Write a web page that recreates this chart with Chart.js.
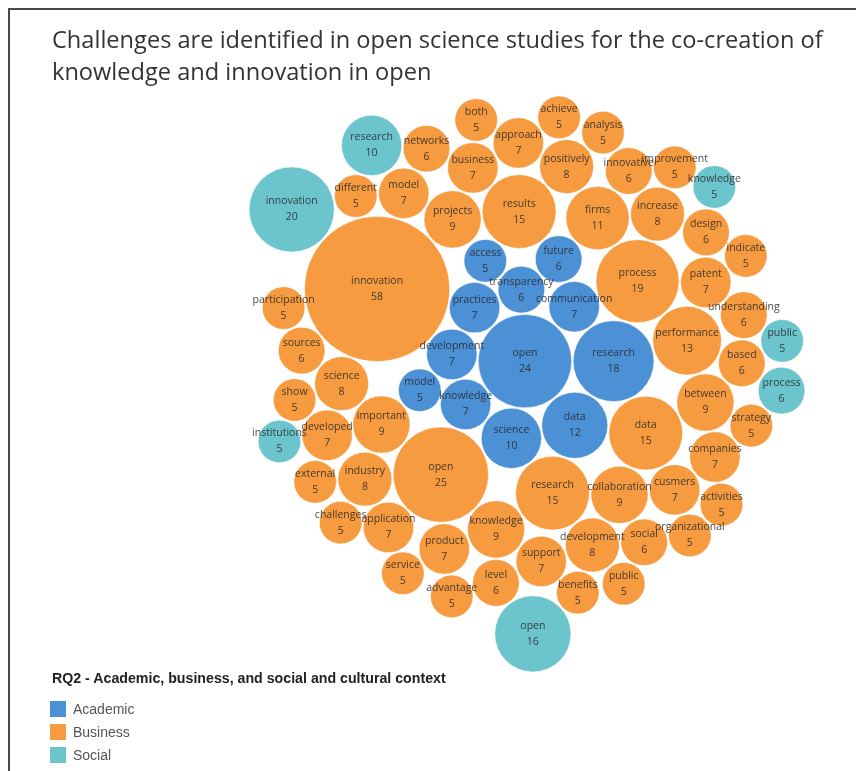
<!DOCTYPE html>
<html><head><meta charset="utf-8">
<script src="https://cdn.jsdelivr.net/npm/chart.js@4.4.0/dist/chart.umd.min.js"></script>
<style>
html,body{margin:0;padding:0;background:#fff;}
#wrap{position:relative;width:860px;height:771px;overflow:hidden;font-family:"Open Sans",sans-serif;}
#frame{position:absolute;left:8px;top:8px;width:846px;height:780px;border-top:2px solid #4a4a4a;border-left:2px solid #4a4a4a;}
#title{position:absolute;left:52px;top:23px;font-size:23.6px;line-height:32px;color:#333;white-space:nowrap;}
canvas{position:absolute;left:0;top:0;}
#legend{position:absolute;left:50px;top:669px;font-family:"Liberation Sans",Arial,sans-serif;}
#legend .lt{font-weight:bold;font-size:14.2px;color:#222;line-height:18px;margin-left:2px;}
#legend .it{position:relative;height:23px;font-size:14px;color:#555;line-height:16px;}
#legend .sw{position:absolute;left:0;top:0;width:16px;height:16px;}
#legend .tx{position:absolute;left:23px;top:0;}
</style></head>
<body><div id="wrap">
<div id="frame"></div>
<canvas id="c" width="860" height="771"></canvas>
<div id="title">Challenges are identified in open science studies for the co-creation of<br>knowledge and innovation in open</div>
<div id="legend">
  <div class="lt">RQ2 - Academic, business, and social and cultural context</div>
  <div style="height:14px"></div>
  <div class="it"><div class="sw" style="background:#4c90d6"></div><div class="tx">Academic</div></div>
  <div class="it"><div class="sw" style="background:#f69b40"></div><div class="tx">Business</div></div>
  <div class="it"><div class="sw" style="background:#6cc4cc"></div><div class="tx">Social</div></div>
</div>
</div>
<script>
const groupNames = ['Academic','Business','Social'];
const groupColors = ['#4c90d6','#f69b40','#6cc4cc'];

const academicWords = ['open','research','data','science','knowledge','development','practices','communication','transparency','future','access','model'];
const academicValues = [24,18,12,10,7,7,7,7,6,6,5,5];

const businessWords = ['innovation','open','process','research','data','results','performance','firms','important','projects','collaboration','knowledge','between',
  'science','development','increase','industry','positively','patent','cusmers','business','support','product','model','developed','companies','application','approach',
  'innovative','social','based','design','sources','level','understanding','networks',
  'show','strategy','different','benefits','organizational','analysis','external','activities','public','indicate','service','improvement','challenges','both','achieve','advantage','participation'];
const businessValues = [58,25,19,15,15,15,13,11,9,9,9,9,9,
  8,8,8,8,8,7,7,7,7,7,7,7,7,7,7,
  6,6,6,6,6,6,6,6,
  5,5,5,5,5,5,5,5,5,5,5,5,5,5,5,5,5];

const socialWords = ['innovation','open','research','process','knowledge','public','institutions'];
const socialValues = [20,16,10,6,5,5,5];

const wordLists = [academicWords, businessWords, socialWords];
const valueLists = [academicValues, businessValues, socialValues];

// ---- layout: greedy circle packing (closest to center), radius ~ sqrt(value)
const K = 9.52, PAD = 1.6;
const items = [];
wordLists.forEach((ws,g)=>{
  const arr = ws.map((w,i)=>({label:w, v:valueLists[g][i], g}));
  arr.sort((a,b)=>b.v-a.v);
  arr.forEach(o=>{o.r = K*Math.sqrt(o.v); items.push(o);});
});
function pack(list, pad){
  const placed=[];
  const ok=(x,y,r)=>{for(const p of placed){const dx=p.x-x,dy=p.y-y,m=p.r+r+pad-1e-7;if(dx*dx+dy*dy<m*m)return false;}return true;};
  for(const c of list){
    if(!placed.length){c.x=0;c.y=0;}
    else if(placed.length===1){c.x=placed[0].r+c.r+pad;c.y=0;}
    else{
      let best=null,bd=Infinity;
      const consider=(x,y)=>{const d=x*x+y*y;
        if(d<bd-1e-6||(best&&Math.abs(d-bd)<=1e-6&&y>best[1])){if(ok(x,y,c.r)){bd=d;best=[x,y];}}};
      for(let i=0;i<placed.length;i++){
        const a=placed[i],ra=a.r+c.r+pad;
        const la=Math.hypot(a.x,a.y)||1;
        consider(a.x+(a.x/la)*ra,a.y+(a.y/la)*ra);
        for(let j=i+1;j<placed.length;j++){
          const b=placed[j],rb=b.r+c.r+pad;
          const dx=b.x-a.x,dy=b.y-a.y,d=Math.hypot(dx,dy);
          if(d===0||d>ra+rb||d<Math.abs(ra-rb))continue;
          const t=(ra*ra-rb*rb+d*d)/(2*d),h=Math.sqrt(Math.max(0,ra*ra-t*t));
          const mx=a.x+dx*t/d,my=a.y+dy*t/d;
          consider(mx-dy*h/d,my+dx*h/d);
          consider(mx+dy*h/d,my-dx*h/d);
        }
      }
      c.x=best[0];c.y=best[1];
    }
    placed.push(c);
  }
}
pack(items, PAD);
let x0=Infinity,x1=-Infinity,y0=Infinity,y1=-Infinity;
items.forEach(o=>{x0=Math.min(x0,o.x-o.r);x1=Math.max(x1,o.x+o.r);y0=Math.min(y0,o.y-o.r);y1=Math.max(y1,o.y+o.r);});
const CX=527, CY=384, sx=CX-(x0+x1)/2, sy=CY-(y0+y1)/2;

const datasets = groupNames.map((name,g)=>({
  label:name,
  data: items.filter(o=>o.g===g).map(o=>({x:o.x+sx, y:o.y+sy, r:o.r, label:o.label, v:o.v})),
  backgroundColor: groupColors[g],
  borderColor:'rgba(255,255,255,0.6)',
  borderWidth:0.8,
  hoverRadius:0,
  clip:false
}));

const labelPlugin = {
  id:'bubbleLabels',
  afterDatasetsDraw(chart){
    const ctx=chart.ctx;
    ctx.save();
    ctx.font='10.5px "Open Sans"';
    ctx.textAlign='center';ctx.textBaseline='middle';
    ctx.fillStyle='rgba(40,40,40,0.85)';
    chart.data.datasets.forEach((ds,di)=>{
      chart.getDatasetMeta(di).data.forEach((el,i)=>{
        const p=ds.data[i];
        ctx.fillText(p.label,el.x,el.y-8);
        ctx.fillText(String(p.v),el.x,el.y+8);
      });
    });
    ctx.restore();
  }
};

new Chart(document.getElementById('c'),{
  type:'bubble',
  data:{datasets},
  options:{
    responsive:false, animation:false, events:[],
    layout:{padding:0, autoPadding:false},
    plugins:{legend:{display:false},tooltip:{enabled:false},title:{display:false}},
    scales:{
      x:{type:'linear',min:0,max:860,display:false},
      y:{type:'linear',min:0,max:771,reverse:true,display:false}
    }
  },
  plugins:[labelPlugin]
});
</script>
</body></html>
